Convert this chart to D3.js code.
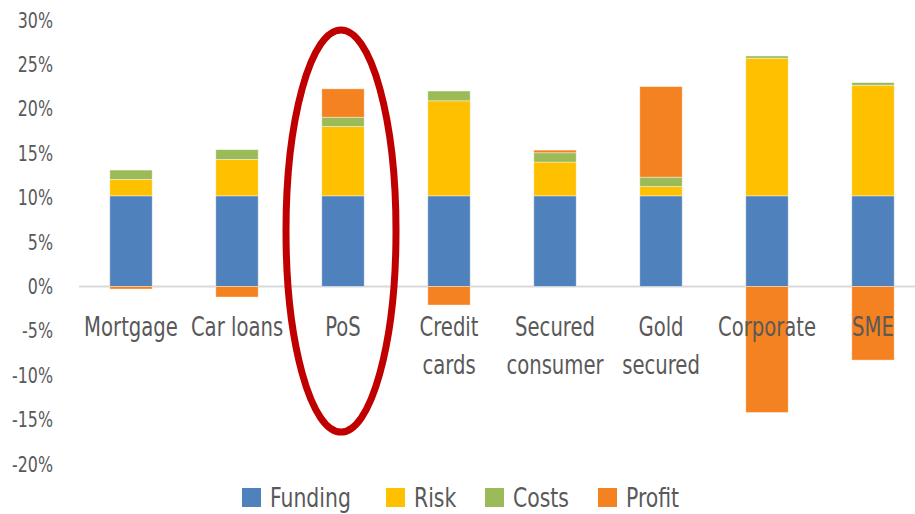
<!DOCTYPE html>
<html>
<head>
<meta charset="utf-8">
<script src="https://cdn.jsdelivr.net/npm/d3@7"></script>
<style>
  body { margin: 0; background: #fff; }
  svg text { font-family: "DejaVu Sans Condensed", "Liberation Sans", sans-serif; fill: #595959; }
</style>
</head>
<body>
<svg id="chart" width="915" height="514"></svg>
<script>
const categories = ["Mortgage", "Car loans", "PoS", "Credit cards", "Secured consumer", "Gold secured", "Corporate", "SME"];
const categoryLines = [["Mortgage"], ["Car loans"], ["PoS"], ["Credit", "cards"], ["Secured", "consumer"], ["Gold", "secured"], ["Corporate"], ["SME"]];
const funding = [10.2, 10.2, 10.2, 10.2, 10.2, 10.2, 10.2, 10.2];
const risk = [1.85, 4.1, 7.8, 10.7, 3.8, 1.05, 15.5, 12.45];
const costs = [1.05, 1.1, 1.05, 1.1, 1.05, 1.05, 0.25, 0.3];
const profit = [-0.3, -1.2, 3.2, -2.1, 0.3, 10.2, -14.2, -8.3];
const seriesNames = ["Funding", "Risk", "Costs", "Profit"];
const yTicks = [-20, -15, -10, -5, 0, 5, 10, 15, 20, 25, 30];

const colors = {Funding: "#4f81bd", Risk: "#ffc000", Costs: "#9bbb59", Profit: "#f58220"};

const data = categories.map((c, i) => ({
  cat: c, Funding: funding[i], Risk: risk[i], Costs: costs[i], Profit: profit[i]
}));

const svg = d3.select("#chart");
const squeeze = 0.84; // narrow the font to look like the original condensed face

const x = d3.scaleBand().domain(categories).range([78, 926]).paddingInner(0.6).paddingOuter(0.3);
const y = d3.scaleLinear().domain([-20, 30]).range([464, 20]);

const stack = d3.stack().keys(seriesNames).offset(d3.stackOffsetDiverging);
const layers = stack(data);

// zero line
svg.append("line")
  .attr("x1", 79).attr("x2", 915)
  .attr("y1", y(0)).attr("y2", y(0))
  .attr("stroke", "#d9d9d9").attr("stroke-width", 2);

svg.append("g").selectAll("g")
  .data(layers)
  .enter().append("g")
    .attr("fill", d => colors[d.key])
  .selectAll("rect")
  .data(d => d)
  .enter().append("rect")
    .attr("x", d => x(d.data.cat))
    .attr("y", d => y(Math.max(d[0], d[1])))
    .attr("width", x.bandwidth())
    .attr("height", d => Math.abs(y(d[0]) - y(d[1])))
    .attr("stroke", "#ffffff").attr("stroke-opacity", 0.5).attr("stroke-width", 0.8);

// y axis labels
svg.append("g").selectAll("g")
  .data(yTicks)
  .enter().append("g")
    .attr("transform", d => "translate(53," + y(d) + ") scale(" + squeeze + ",1)")
  .append("text")
    .attr("dy", "0.36em")
    .attr("text-anchor", "end")
    .attr("font-size", 21)
    .text(d => d + "%");

// category labels
svg.append("g").selectAll("g")
  .data(categories)
  .enter().append("g")
    .attr("transform", d => "translate(" + (x(d) + x.bandwidth() / 2) + ",336) scale(" + squeeze + ",1)")
  .each(function(d, i) {
    const g = d3.select(this);
    categoryLines[i].forEach((line, j) => {
      g.append("text")
        .attr("y", j * 38)
        .attr("text-anchor", "middle")
        .attr("font-size", 26)
        .text(line);
    });
  });

// highlight ellipse around PoS
svg.append("ellipse")
  .attr("cx", x("PoS") + x.bandwidth() / 2 - 2)
  .attr("cy", 231)
  .attr("rx", 55)
  .attr("ry", 201)
  .attr("fill", "none")
  .attr("stroke", "#c00000")
  .attr("stroke-width", 7);

// legend
const legendX = [242, 386, 485, 598];
const legend = svg.append("g").selectAll("g")
  .data(seriesNames)
  .enter().append("g")
    .attr("transform", (d, i) => "translate(" + legendX[i] + ",488)");
legend.append("rect")
  .attr("width", 19).attr("height", 19)
  .attr("fill", d => colors[d]);
legend.append("text")
  .attr("transform", "translate(28,19) scale(" + squeeze + ",1)")
  .attr("font-size", 27)
  .text(d => d);
</script>
</body>
</html>
